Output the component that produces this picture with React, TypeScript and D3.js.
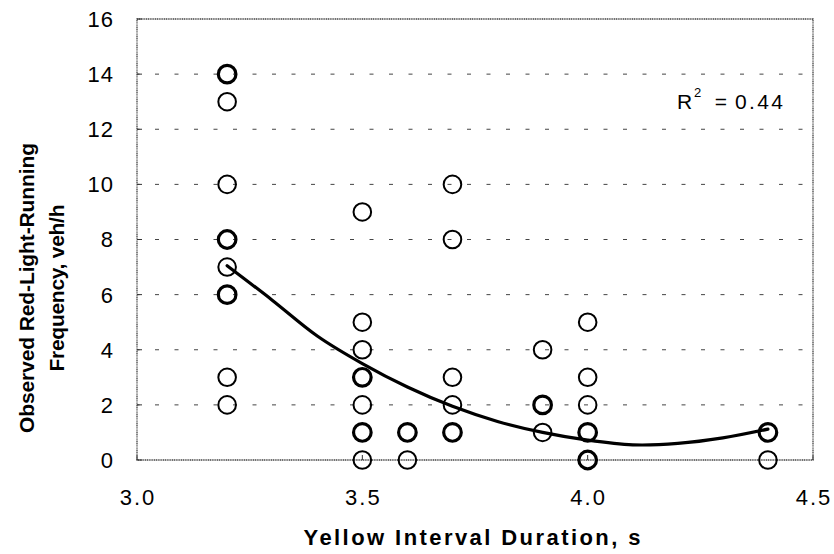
import React from "react";
import * as d3 from "d3";

// Observations (duplicates represent overlapping circles)
const obsX = [
  3.2, 3.2, 3.2, 3.2, 3.2, 3.2, 3.2, 3.2, 3.2, 3.2, 3.2,
  3.5, 3.5, 3.5, 3.5, 3.5, 3.5, 3.5, 3.5, 3.5, 3.5,
  3.6, 3.6, 3.6,
  3.7, 3.7, 3.7, 3.7, 3.7, 3.7,
  3.9, 3.9, 3.9, 3.9,
  4.0, 4.0, 4.0, 4.0, 4.0, 4.0, 4.0,
  4.4, 4.4, 4.4,
];
const obsY = [
  14, 14, 13, 10, 8, 8, 7, 6, 6, 3, 2,
  9, 5, 4, 3, 3, 2, 1, 1, 1, 0,
  1, 1, 0,
  10, 8, 3, 2, 1, 1,
  4, 2, 2, 1,
  5, 3, 2, 1, 1, 0, 0,
  1, 1, 0,
];

// Trend curve
const trendX = [3.2, 3.3, 3.4, 3.5, 3.6, 3.7, 3.8, 3.9, 4.0, 4.1, 4.2, 4.3, 4.4];
const trendY = [7.05, 5.8, 4.5, 3.5, 2.65, 1.95, 1.4, 1.0, 0.72, 0.55, 0.6, 0.8, 1.12];

const xTicks = [3.0, 3.5, 4.0, 4.5];
const yTicks = [0, 2, 4, 6, 8, 10, 12, 14, 16];

const xTitle = "Yellow Interval Duration, s";
const yTitle1 = "Observed Red-Light-Running";
const yTitle2 = "Frequency, veh/h";
const r2Value = "0.44";

export default function App() {
  const W = 834, H = 554;
  const left = 137, right = 813, top = 19, bottom = 460;
  const x = d3.scaleLinear().domain([3.0, 4.5]).range([left, right]);
  const y = d3.scaleLinear().domain([0, 16]).range([bottom, top]);

  const groups = d3.rollups(
    obsX.map((v, i) => [v, obsY[i]] as [number, number]),
    (v) => v.length,
    (d) => `${d[0]}|${d[1]}`
  ).map(([k, n]) => {
    const [a, b] = k.split("|").map(Number);
    return { xv: a, yv: b, n };
  });

  const line = d3
    .line<number>()
    .x((_, i) => x(trendX[i]))
    .y((d) => y(d))
    .curve(d3.curveCatmullRom.alpha(0.5));

  const font = "'Liberation Sans', Arial, Helvetica, sans-serif";

  return (
    <svg width={W} height={H} style={{ position: "absolute", left: 0, top: 0, background: "#fff" }}>
      {yTicks.filter((t) => t > 0 && t < 16).map((t) => (
        <line key={"g" + t} x1={left} x2={right} y1={y(t)} y2={y(t)}
          stroke="#444" strokeWidth={1} strokeDasharray="4 15.5" strokeDashoffset={-18} />
      ))}
      <rect x={left} y={top} width={right - left} height={bottom - top}
        fill="none" stroke="#444" strokeWidth={1.3} strokeDasharray="1.2 0.6" />
      {yTicks.map((t) => (
        <line key={"yt" + t} x1={left} x2={left + 5} y1={y(t)} y2={y(t)} stroke="#333" strokeWidth={1} />
      ))}
      {xTicks.map((t) => (
        <line key={"xt" + t} x1={x(t)} x2={x(t)} y1={bottom} y2={bottom - 5} stroke="#333" strokeWidth={1} />
      ))}
      {yTicks.map((t) => (
        <text key={"yl" + t} x={114} y={y(t)} dy="0.36em" textAnchor="end" letterSpacing={1}
          fontFamily={font} fontSize={22} fill="#000">{t}</text>
      ))}
      {xTicks.map((t) => (
        <text key={"xl" + t} x={x(t) + 1} y={505} textAnchor="middle" letterSpacing={2}
          fontFamily={font} fontSize={22} fill="#000">{t.toFixed(1)}</text>
      ))}
      {groups.map((g, i) => (
        <circle key={"p" + i} cx={x(g.xv)} cy={y(g.yv)} r={8.8}
          fill="none" stroke="#000" strokeWidth={g.n > 1 ? 3.2 : 2} />
      ))}
      <path d={line(trendY) || ""} fill="none" stroke="#000" strokeWidth={3.2} strokeLinejoin="round" strokeLinecap="round" />
      <g fontFamily={font} fill="#000">
        <text x={677} y={109} fontSize={21}>R</text>
        <text x={694} y={97} fontSize={13}>2</text>
        <text x={721} y={109} fontSize={21} textAnchor="middle">=</text>
        <text x={735} y={109} fontSize={21} textLength={48} lengthAdjust="spacing">{r2Value}</text>
      </g>
      <text x={472} y={545} textAnchor="middle" fontFamily={font} fontSize={22} fontWeight="bold"
        textLength={337} lengthAdjust="spacing" fill="#000">{xTitle}</text>
      <g transform="translate(34,288) rotate(-90)">
        <text x={0} y={0} textAnchor="middle" fontFamily={font} fontSize={21} fontWeight="bold"
          textLength={290} lengthAdjust="spacing" fill="#000">{yTitle1}</text>
        <text x={0} y={30} textAnchor="middle" fontFamily={font} fontSize={21} fontWeight="bold"
          textLength={167} lengthAdjust="spacing" fill="#000">{yTitle2}</text>
      </g>
    </svg>
  );
}
